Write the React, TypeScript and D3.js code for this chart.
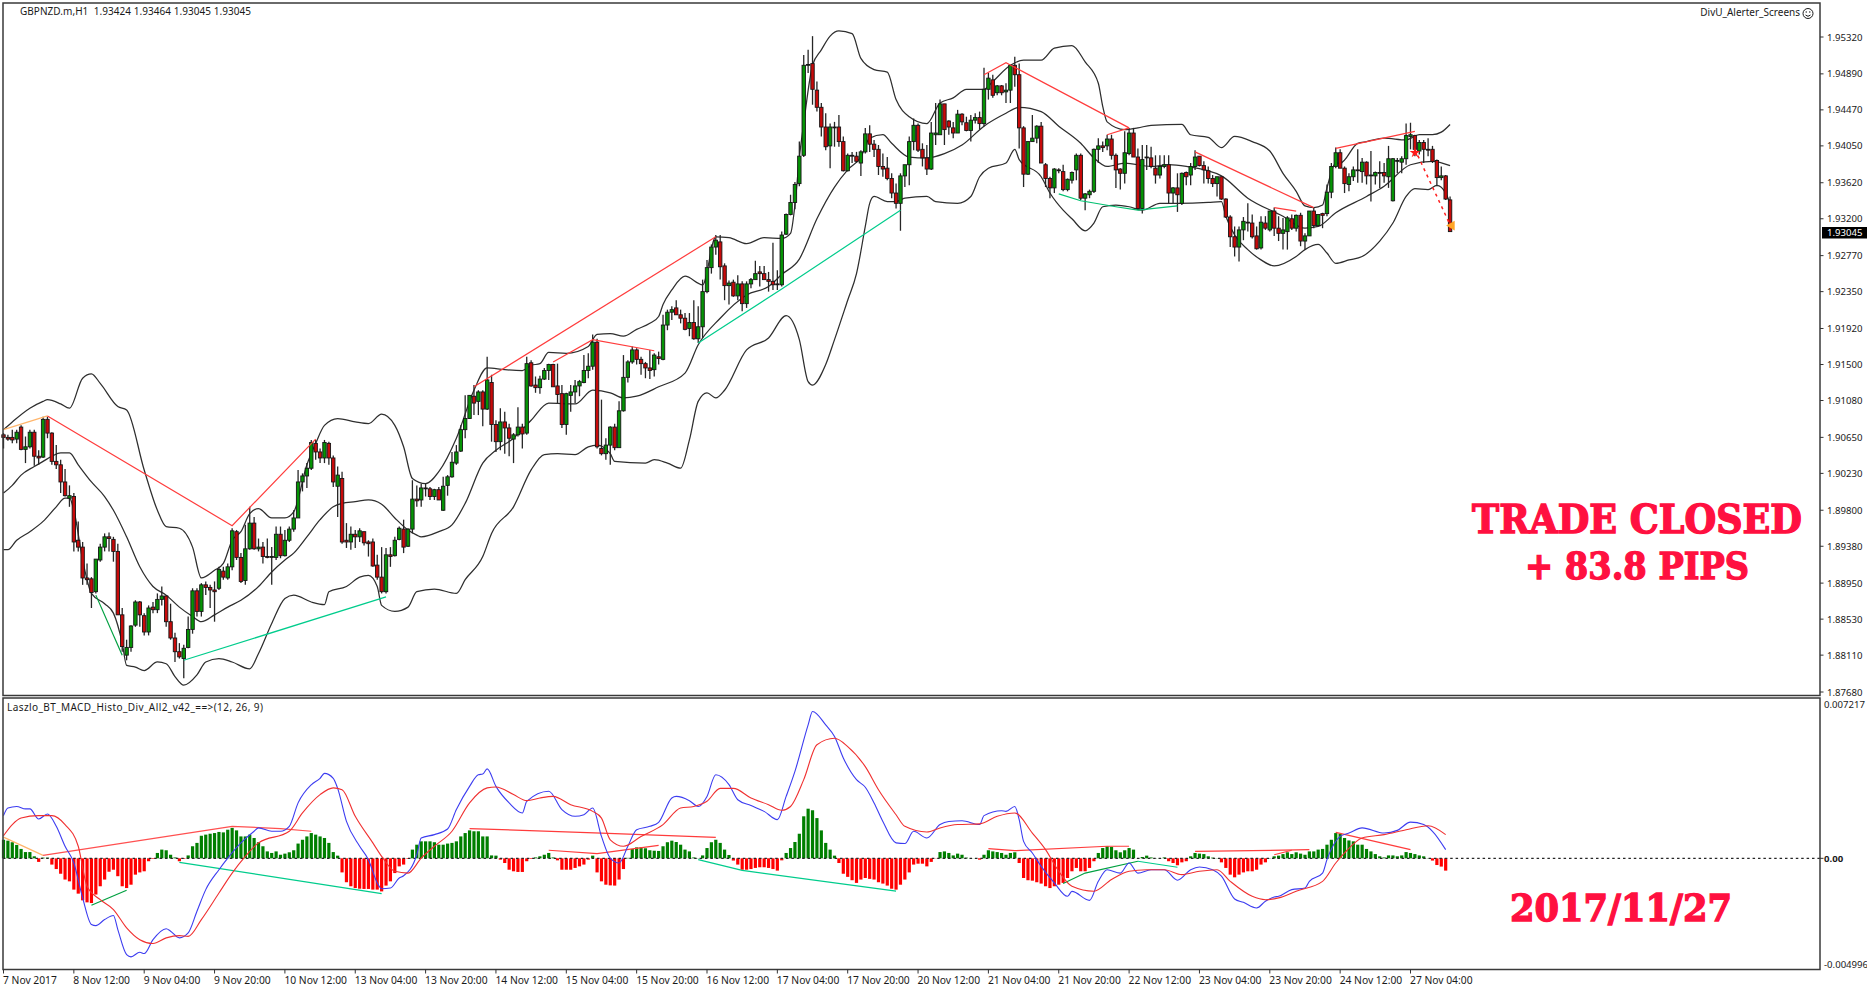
import React from 'react'
import * as d3 from 'd3'

// prices are kept in 1/10000 units, macd values in 1/100000 units
const candles = [
  [19068,19070,19052,19065],[19065,19068,19061,19063],[19065,19074,19058,19062],[19063,19074,19058,19071],[19077,19079,19050,19051],
  [19051,19066,19035,19054],[19054,19074,19052,19071],[19071,19074,19032,19043],[19043,19050,19033,19041],[19042,19089,19041,19086],
  [19086,19089,19064,19070],[19070,19071,19033,19037],[19037,19056,19028,19033],[19033,19039,19000,19013],[19013,19028,18996,18997],
  [18994,19009,18984,18997],[18996,19000,18932,18943],[18945,18967,18932,18937],[18937,18943,18893,18901],[18901,18918,18893,18899],
  [18900,18902,18866,18884],[18885,18923,18883,18923],[18922,18941,18920,18937],[18937,18953,18932,18949],[18949,18954,18932,18947],
  [18946,18949,18920,18932],[18932,18941,18858,18858],[18858,18866,18815,18821],[18811,18829,18805,18820],[18820,18846,18815,18845],
  [18846,18875,18844,18873],[18873,18874,18844,18858],[18857,18860,18834,18838],[18838,18869,18834,18866],[18867,18873,18860,18864],
  [18864,18883,18860,18876],[18876,18891,18869,18880],[18880,18881,18844,18850],[18850,18871,18829,18831],[18831,18837,18803,18815],
  [18815,18825,18807,18809],[18807,18823,18784,18819],[18820,18856,18819,18841],[18841,18889,18836,18886],[18886,18889,18856,18862],
  [18862,18895,18856,18893],[18893,18897,18881,18890],[18890,18893,18866,18887],[18887,18897,18850,18885],[18889,18914,18887,18911],
  [18909,18914,18899,18902],[18901,18918,18899,18914],[18914,18959,18910,18956],[18955,18957,18922,18925],[18925,18930,18895,18897],
  [18898,18963,18893,18935],[18935,18984,18934,18965],[18965,18972,18934,18935],[18935,18947,18932,18937],[18937,18943,18918,18926],
  [18926,18947,18924,18925],[18925,18937,18893,18926],[18925,18961,18922,18952],[18952,18961,18924,18927],[18927,18957,18926,18945],
  [18945,18961,18943,18958],[18958,18980,18955,18971],[18971,19027,18971,19013],[19013,19023,19002,19020],[19020,19035,19006,19029],
  [19029,19062,19027,19059],[19058,19062,19039,19048],[19048,19052,19035,19041],[19041,19062,19035,19059],[19058,19060,19033,19041],
  [19041,19044,19007,19013],[19008,19031,18972,19021],[19017,19025,18941,18943],[18945,18965,18936,18943],[18943,18961,18934,18952],
  [18952,18957,18936,18949],[18949,18959,18943,18956],[18955,18955,18939,18942],[18943,18945,18926,18941],[18943,18947,18914,18915],
  [18916,18928,18899,18902],[18902,18937,18883,18885],[18885,18936,18883,18928],[18928,18937,18914,18926],[18927,18949,18926,18945],
  [18946,18961,18945,18959],[18958,18969,18930,18937],[18938,18959,18937,18958],[18958,19015,18953,18993],[18993,19009,18984,18991],
  [18992,19011,18984,19006],[19006,19011,18996,19005],[19005,19007,18992,18996],[18996,19005,18992,19004],[19004,19007,18992,18992],
  [18980,19019,18979,19008],[19009,19021,18997,19019],[19019,19048,19018,19036],[19035,19056,19033,19048],[19049,19079,19048,19074],
  [19074,19114,19064,19087],[19087,19114,19087,19114],[19113,19126,19091,19105],[19107,19120,19091,19118],[19118,19120,19078,19098],
  [19098,19159,19097,19132],[19129,19138,19060,19080],[19080,19085,19048,19060],[19060,19099,19050,19083],[19083,19095,19046,19076],
  [19076,19081,19043,19064],[19063,19070,19035,19068],[19068,19100,19066,19077],[19077,19081,19052,19069],[19070,19159,19068,19151],
  [19152,19155,19124,19125],[19126,19136,19117,19123],[19123,19137,19116,19133],[19133,19146,19132,19143],[19143,19151,19132,19150],
  [19150,19151,19124,19124],[19125,19151,19105,19115],[19116,19126,19076,19080],[19080,19117,19068,19116],[19114,19126,19095,19118],
  [19118,19132,19105,19125],[19125,19132,19113,19130],[19129,19161,19128,19143],[19143,19163,19134,19148],[19148,19185,19144,19176],
  [19176,19180,19052,19054],[19052,19109,19044,19046],[19046,19064,19039,19056],[19056,19078,19033,19077],[19077,19081,19050,19053],
  [19053,19107,19053,19096],[19096,19161,19095,19135],[19135,19155,19129,19153],[19153,19171,19151,19167],[19167,19169,19150,19156],
  [19156,19159,19138,19151],[19151,19153,19134,19146],[19146,19167,19133,19143],[19144,19163,19136,19161],[19159,19165,19150,19157],
  [19156,19208,19155,19196],[19196,19214,19190,19211],[19211,19218,19202,19214],[19216,19225,19208,19208],[19208,19214,19198,19204],
  [19204,19210,19190,19191],[19192,19210,19183,19199],[19199,19225,19179,19180],[19180,19218,19175,19194],[19194,19249,19181,19235],
  [19235,19272,19233,19263],[19263,19290,19256,19287],[19287,19301,19278,19295],[19293,19301,19249,19264],[19265,19268,19225,19242],
  [19242,19248,19220,19245],[19246,19249,19229,19230],[19230,19254,19225,19244],[19244,19247,19212,19221],[19221,19247,19216,19244],
  [19244,19251,19239,19249],[19249,19271,19249,19256],[19258,19265,19241,19256],[19256,19265,19249,19249],[19249,19258,19235,19247],
  [19247,19292,19237,19243],[19244,19260,19237,19243],[19243,19305,19241,19301],[19302,19326,19301,19325],[19325,19348,19324,19339],
  [19339,19363,19331,19360],[19361,19410,19358,19393],[19394,19511,19392,19499],[19499,19517,19490,19500],[19501,19533,19453,19471],
  [19470,19480,19445,19450],[19450,19455,19416,19427],[19427,19443,19400,19404],[19405,19431,19379,19427],[19427,19433,19404,19426],
  [19427,19441,19404,19410],[19410,19416,19375,19376],[19376,19396,19375,19394],[19394,19398,19385,19393],[19393,19398,19385,19387],
  [19385,19400,19370,19398],[19398,19426,19396,19419],[19419,19429,19398,19407],[19407,19412,19392,19401],[19401,19406,19371,19381],
  [19381,19396,19369,19378],[19379,19392,19365,19367],[19367,19373,19344,19350],[19350,19361,19332,19338],[19338,19373,19306,19370],
  [19370,19383,19357,19383],[19383,19416,19359,19410],[19410,19437,19400,19429],[19429,19431,19398,19400],[19401,19408,19381,19391],
  [19391,19406,19371,19378],[19378,19433,19377,19420],[19418,19455,19406,19420],[19418,19459,19418,19454],[19454,19454,19406,19424],
  [19434,19435,19418,19427],[19426,19433,19414,19420],[19420,19447,19420,19442],[19442,19443,19429,19433],[19432,19439,19422,19423],
  [19423,19441,19410,19435],[19435,19443,19431,19438],[19438,19445,19424,19431],[19431,19496,19428,19471],[19471,19490,19459,19484],
  [19482,19488,19461,19464],[19467,19476,19464,19475],[19475,19476,19464,19467],[19468,19478,19455,19470],[19470,19499,19455,19499],
  [19499,19509,19474,19488],[19488,19501,19402,19426],[19426,19428,19357,19372],[19372,19410,19371,19410],[19410,19441,19410,19414],
  [19414,19429,19408,19428],[19428,19433,19385,19385],[19383,19385,19357,19367],[19367,19369,19344,19356],[19356,19379,19350,19378],
  [19377,19379,19373,19376],[19375,19383,19352,19354],[19354,19367,19352,19366],[19365,19375,19361,19374],[19377,19396,19365,19394],
  [19394,19396,19342,19344],[19344,19350,19330,19349],[19348,19354,19344,19352],[19352,19402,19350,19401],[19401,19414,19385,19405],
  [19405,19410,19398,19403],[19405,19418,19400,19413],[19413,19418,19389,19394],[19394,19396,19356,19377],[19378,19379,19354,19373],
  [19373,19422,19361,19397],[19396,19426,19394,19420],[19420,19426,19392,19392],[19392,19402,19332,19332],[19332,19406,19326,19389],
  [19392,19406,19377,19391],[19391,19404,19379,19381],[19379,19394,19361,19371],[19371,19394,19367,19381],[19381,19394,19379,19383],
  [19383,19394,19338,19350],[19350,19357,19338,19356],[19356,19373,19328,19348],[19338,19374,19336,19373],[19374,19375,19359,19369],
  [19371,19385,19359,19381],[19381,19400,19377,19392],[19393,19393,19381,19382],[19382,19387,19361,19377],[19376,19381,19361,19367],
  [19367,19371,19357,19361],[19361,19369,19346,19369],[19369,19369,19342,19343],[19343,19344,19321,19322],[19322,19324,19287,19299],
  [19299,19311,19276,19287],[19287,19311,19270,19307],[19307,19322,19295,19317],[19316,19338,19305,19315],[19315,19325,19297,19299],
  [19300,19311,19284,19285],[19286,19323,19284,19316],[19315,19323,19307,19309],[19307,19329,19305,19329],[19329,19333,19300,19309],
  [19309,19323,19294,19303],[19303,19321,19284,19307],[19305,19323,19284,19321],[19320,19325,19307,19309],[19309,19325,19305,19324],
  [19324,19327,19288,19294],[19294,19303,19284,19300],[19300,19329,19300,19329],[19329,19333,19309,19312],[19312,19325,19311,19325],
  [19326,19327,19309,19324],[19326,19360,19323,19351],[19351,19385,19344,19381],[19381,19403,19379,19397],[19397,19401,19379,19379],
  [19379,19381,19350,19361],[19360,19373,19352,19369],[19369,19381,19364,19377],[19377,19401,19362,19376],[19375,19391,19362,19386],
  [19386,19387,19360,19370],[19371,19399,19340,19370],[19370,19375,19360,19374],[19374,19387,19356,19373],[19374,19385,19362,19370],
  [19369,19405,19356,19390],[19341,19391,19340,19390],[19387,19391,19373,19388],[19386,19393,19373,19390],[19390,19431,19383,19417],
  [19416,19432,19401,19418],[19417,19418,19393,19401],[19399,19412,19395,19409],[19409,19412,19385,19401],[19401,19414,19393,19400],
  [19401,19405,19385,19387],[19388,19389,19358,19368],[19368,19381,19365,19370],[19370,19371,19342,19343],[19342,19346,19305,19305],
]

const bbUpper = [
  [0,19074],[2,19083],[6,19099],[9,19107],[10,19109],[13,19104],[15,19099],[18,19134],[20,19139],[22,19128],[26,19101],[28,19097],
  [32,19027],[35,18980],[37,18961],[40,18959],[43,18937],[45,18901],[48,18910],[50,18918],[52,18945],[54,18955],[56,18976],[58,18982],
  [61,18971],[64,18971],[66,18978],[69,19033],[71,19058],[73,19079],[76,19087],[80,19083],[83,19081],[86,19092],[89,19079],[91,19054],
  [93,19017],[96,19011],[99,19025],[103,19064],[107,19120],[110,19146],[114,19144],[118,19143],[120,19149],[122,19151],[124,19164],
  [128,19163],[133,19171],[135,19185],[138,19186],[141,19183],[144,19191],[147,19198],[149,19206],[150,19220],[152,19237],[155,19253],
  [159,19243],[162,19299],[165,19298],[169,19291],[173,19298],[177,19297],[179,19303],[180,19336],[181,19391],[182,19431],[184,19499],
  [186,19517],[188,19533],[190,19539],[193,19536],[195,19507],[198,19494],[201,19491],[203,19459],[206,19439],[210,19431],[213,19455],
  [216,19461],[219,19471],[223,19471],[225,19480],[229,19499],[232,19505],[236,19505],[239,19519],[243,19522],[246,19503],[249,19478],
  [250,19451],[251,19433],[255,19424],[258,19426],[261,19429],[268,19430],[270,19418],[274,19415],[277,19403],[280,19416],[284,19410],
  [288,19399],[291,19373],[294,19352],[296,19335],[298,19333],[300,19336],[301,19356],[303,19385],[304,19385],[308,19408],[310,19410],
  [314,19414],[319,19412],[322,19418],[325,19418],[327,19421],[329,19430],
]
const bbMiddle = [
  [0,19000],[2,19009],[4,19021],[7,19031],[9,19037],[11,19043],[13,19047],[15,19047],[17,19033],[20,19013],[23,18996],[25,18980],
  [28,18949],[31,18914],[34,18891],[37,18881],[40,18867],[43,18856],[45,18850],[48,18858],[51,18867],[54,18875],[58,18891],[61,18908],
  [64,18922],[66,18930],[69,18949],[72,18969],[75,18984],[77,18988],[80,18990],[83,18992],[86,18987],[89,18971],[92,18957],[94,18951],
  [95,18949],[99,18955],[102,18963],[105,18988],[109,19035],[112,19050],[116,19064],[120,19085],[124,19105],[130,19104],[134,19120],
  [138,19117],[141,19111],[144,19113],[149,19124],[155,19140],[158,19173],[163,19204],[169,19231],[174,19241],[177,19255],[181,19273],
  [185,19320],[189,19357],[192,19377],[195,19392],[197,19414],[200,19418],[202,19408],[206,19392],[210,19391],[214,19396],[218,19406],
  [223,19428],[228,19443],[231,19450],[236,19445],[240,19428],[245,19408],[248,19391],[251,19381],[255,19385],[261,19381],[265,19383],
  [269,19381],[277,19370],[283,19344],[291,19323],[296,19309],[299,19311],[303,19327],[310,19346],[314,19358],[320,19383],[325,19387],[329,19382],
]
const bbLower = [
  [0,18934],[1,18934],[3,18945],[6,18955],[9,18967],[12,18984],[14,18994],[15,18994],[16,18980],[18,18922],[20,18883],[23,18871],
  [25,18860],[27,18825],[28,18799],[30,18797],[32,18793],[35,18803],[37,18801],[39,18786],[41,18776],[44,18788],[46,18803],[49,18807],
  [52,18803],[56,18795],[58,18813],[61,18848],[64,18877],[66,18881],[70,18873],[73,18870],[74,18885],[78,18891],[81,18902],[83,18904],
  [85,18891],[86,18869],[89,18862],[92,18867],[94,18885],[98,18888],[103,18883],[105,18899],[109,18926],[111,18953],[116,18984],
  [120,19027],[123,19045],[126,19046],[130,19045],[133,19054],[135,19056],[138,19046],[139,19037],[146,19035],[148,19039],[151,19035],
  [154,19029],[156,19062],[158,19107],[160,19117],[162,19111],[164,19120],[169,19167],[174,19181],[178,19207],[181,19179],[183,19130],
  [184,19126],[187,19150],[189,19179],[192,19225],[194,19256],[196,19311],[197,19338],[198,19346],[201,19340],[203,19340],[205,19344],
  [210,19346],[212,19340],[217,19338],[220,19346],[222,19369],[224,19379],[228,19385],[230,19401],[231,19389],[236,19369],[238,19350],
  [241,19330],[243,19320],[246,19306],[248,19315],[250,19334],[253,19336],[256,19334],[259,19330],[263,19338],[267,19338],[274,19339],
  [277,19340],[278,19323],[280,19301],[283,19284],[286,19272],[289,19265],[294,19276],[296,19284],[299,19290],[301,19280],[303,19268],
  [306,19272],[309,19276],[313,19294],[316,19315],[319,19346],[321,19355],[324,19354],[326,19359],[328,19350],[329,19338],
]

const priceDivergences = [
  {color: '#ffb56b', points: [[0,19074],[10,19090]]},
  {color: '#ff3c3c', points: [[10,19090],[52,18962],[71,19063]]},
  {color: '#00a040', points: [[21,18881],[27,18811]]},
  {color: '#00cc8c', points: [[41,18805],[87,18879]]},
  {color: '#ff3c3c', points: [[107,19124],[162,19299]]},
  {color: '#ff3c3c', points: [[125,19153],[134,19179],[148,19166]]},
  {color: '#00cc8c', points: [[158,19175],[177,19238],[204,19330]]},
  {color: '#ff3c3c', points: [[223,19488],[228,19502],[256,19426]]},
  {color: '#ff3c3c', points: [[251,19418],[256,19426]]},
  {color: '#00c070', points: [[240,19349],[245,19341],[253,19334],[258,19330],[267,19335]]},
  {color: '#ff3c3c', points: [[271,19398],[298,19333]]},
  {color: '#ff3c3c', points: [[289,19333],[294,19329]]},
  {color: '#ff3c3c', points: [[303,19402],[321,19422]]},
]
const signalArrow = [[321,19401],[329,19313]]

const histogram = [
  83,79,72,60,42,28,28,9,-16,3,3,-28,-48,-69,-95,-103,-140,-158,-188,-197,-200,-162,-125,-95,-60,-51,-80,-125,-133,-118,
  -73,-63,-58,-13,-3,24,39,36,16,4,-13,-3,13,54,69,101,106,110,113,118,116,128,136,125,98,98,106,91,72,54,
  31,24,31,16,21,27,36,66,83,98,113,106,98,91,69,28,12,-63,-107,-125,-133,-136,-137,-137,-140,-140,-148,-122,-103,-66,
  -36,-28,-3,39,61,76,76,76,72,61,61,66,69,76,98,113,125,121,121,98,98,13,12,-6,-21,-51,-58,-61,-61,-13,
  -3,4,9,16,24,4,-9,-51,-51,-51,-43,-36,-28,-6,12,-63,-103,-118,-121,-122,-95,-48,2,42,49,49,45,36,34,33,
  54,72,79,73,61,39,31,4,1,13,46,72,83,69,39,15,-10,-28,-51,-51,-48,-43,-40,-40,-43,-48,-55,-9,24,46,
  73,110,188,222,215,180,125,69,39,12,-21,-69,-83,-98,-110,-95,-88,-92,-95,-107,-113,-122,-136,-140,-118,-95,-63,-28,-24,-24,
  -36,-16,-1,28,31,24,13,21,16,3,1,1,-6,16,36,31,28,24,16,24,27,-21,-88,-98,-100,-107,-113,-125,-133,-125,
  -118,-110,-88,-58,-43,-58,-58,-43,-13,24,46,54,51,36,27,36,46,39,1,6,12,4,1,1,4,-13,-21,-31,-18,-13,
  9,24,21,19,9,3,1,-18,-43,-73,-85,-73,-63,-58,-58,-51,-28,-18,1,9,12,19,27,19,27,21,16,31,31,39,
  42,61,83,113,110,91,80,76,61,61,42,31,19,9,4,13,13,9,13,28,24,19,13,9,1,-10,-30,-37,-55,
]
const macdLine = [
  [0,191],[1,225],[3,232],[5,221],[6,221],[8,176],[10,198],[12,143],[14,54],[16,-21],[18,-177],[20,-296],[21,-301],[23,-274],[25,-256],
  [26,-319],[28,-431],[29,-441],[31,-420],[32,-426],[34,-364],[37,-315],[38,-326],[40,-356],[42,-334],[44,-237],[46,-140],[49,-51],[51,1],
  [54,69],[57,121],[58,136],[61,121],[63,121],[65,143],[67,248],[70,329],[72,358],[73,380],[75,358],[76,313],[78,165],[81,54],[83,-6],
  [85,-110],[86,-136],[88,-133],[90,-88],[91,-78],[94,16],[95,91],[98,106],[101,131],[103,218],[106,322],[108,374],[109,377],[110,400],
  [112,322],[115,248],[118,203],[119,255],[124,300],[127,218],[130,188],[132,195],[134,225],[136,98],[138,1],[140,-21],[142,54],[144,128],
  [147,143],[149,161],[152,270],[153,277],[156,258],[158,232],[160,277],[162,374],[165,330],[167,262],[170,236],[173,210],[176,173],
  [178,277],[180,389],[183,597],[184,657],[187,597],[189,545],[191,449],[194,352],[196,318],[198,248],[200,165],[203,69],[205,66],[207,121],
  [210,91],[213,151],[215,165],[218,168],[222,151],[223,191],[227,213],[228,210],[230,232],[231,173],[232,76],[234,24],[236,-36],[239,-110],
  [242,-170],[243,-148],[247,-188],[249,-103],[251,-51],[254,-66],[256,-21],[258,-66],[261,-51],[264,-51],[267,-98],[270,-51],[272,-39],
  [275,-51],[277,-80],[280,-182],[282,-197],[285,-222],[287,-192],[289,-173],[290,-170],[293,-140],[296,-133],[297,-103],[300,-66],[301,-6],
  [304,98],[306,113],[309,136],[314,113],[317,125],[320,162],[323,151],[325,121],[328,39],
]
const signalLine = [
  [0,101],[2,151],[4,180],[8,191],[11,191],[14,151],[17,54],[19,-125],[22,-185],[25,-229],[28,-311],[31,-364],[34,-381],[37,-356],[40,-346],
  [42,-349],[45,-274],[49,-155],[52,-66],[55,9],[58,69],[65,121],[68,203],[72,285],[75,315],[77,307],[80,188],[84,69],[86,9],[89,-58],[92,-66],
  [95,1],[98,54],[102,121],[106,248],[110,315],[112,319],[116,285],[119,258],[122,270],[125,277],[129,240],[134,210],[136,180],[138,83],
  [141,54],[145,98],[150,151],[154,225],[157,232],[160,255],[163,313],[166,313],[170,270],[174,240],[177,215],[179,232],[182,352],[185,508],
  [189,537],[192,500],[196,410],[199,307],[203,195],[205,143],[210,118],[213,136],[217,151],[222,154],[226,188],[230,203],[234,113],[237,39],
  [240,-58],[243,-125],[248,-147],[252,-95],[256,-58],[260,-51],[264,-51],[268,-73],[272,-58],[276,-51],[279,-103],[284,-170],[287,-185],
  [290,-177],[294,-147],[300,-103],[303,-21],[305,24],[309,91],[314,106],[319,128],[324,146],[328,106],
]
const macdDivergences = [
  {color: '#ffb56b', points: [[0,95],[9,13]]},
  {color: '#ff5050', points: [[9,13],[52,143],[63,133],[70,121]]},
  {color: '#00a040', points: [[20,-210],[28,-143]]},
  {color: '#00cc8c', points: [[40,-18],[86,-158]]},
  {color: '#ff3c3c', points: [[106,133],[136,113],[162,94]]},
  {color: '#ff3c3c', points: [[124,36],[135,21],[149,58]]},
  {color: '#00cc8c', points: [[158,-6],[168,-54],[203,-147]]},
  {color: '#ff3c3c', points: [[224,43],[230,34],[251,54],[256,54]]},
  {color: '#00a040', points: [[241,-113],[246,-66],[258,-13]]},
  {color: '#00cc8c', points: [[258,-13],[267,-40]]},
  {color: '#ff3c3c', points: [[271,31],[284,34],[297,39]]},
  {color: '#ff3c3c', points: [[289,16],[293,36]]},
  {color: '#ff3c3c', points: [[303,116],[320,39]]},
]

const priceLabels = ['1.95320','1.94890','1.94470','1.94050','1.93620','1.93200','1.92770','1.92350','1.91920','1.91500','1.91080','1.90650','1.90230','1.89800','1.89380','1.88950','1.88530','1.88110','1.87680']
const timeLabels = ['7 Nov 2017','8 Nov 12:00','9 Nov 04:00','9 Nov 20:00','10 Nov 12:00','13 Nov 04:00','13 Nov 20:00','14 Nov 12:00','15 Nov 04:00','15 Nov 20:00','16 Nov 12:00','17 Nov 04:00','17 Nov 20:00','20 Nov 12:00','21 Nov 04:00','21 Nov 20:00','22 Nov 12:00','23 Nov 04:00','23 Nov 20:00','24 Nov 12:00','27 Nov 04:00']

const width = 1867
const height = 993
const left = 3
const right = 1820
const mainTop = 3
const mainBottom = 695.5
const subTop = 698
const subBottom = 969.5
const labelFont = '"Noto Sans", sans-serif'
const slabFont = '"DejaVu Serif", serif'
const bigRed = '#ff1040'

const x = d3.scaleLinear().domain([0, 16]).range([3.5, 73.85])
const yPrice = d3.scaleLinear().domain([19532, 18768]).range([37, 692])
const yMacd = d3.scaleLinear().domain([721.7, -499.6]).range([subTop - 1, subBottom + 0.5])

const priceLine = d3
  .line()
  .x((d) => x(d[0]))
  .y((d) => yPrice(d[1]))
const smoothPrice = d3
  .line()
  .x((d) => x(d[0]))
  .y((d) => yPrice(d[1]))
  .curve(d3.curveMonotoneX)
const macdPath = d3
  .line()
  .x((d) => x(d[0]))
  .y((d) => yMacd(d[1]))
const smoothMacd = d3
  .line()
  .x((d) => x(d[0]))
  .y((d) => yMacd(d[1]))
  .curve(d3.curveMonotoneX)

const BigText = ({tx, ty, len, size, children}) => (
  <text
    x={tx}
    y={ty}
    textLength={len}
    lengthAdjust="spacingAndGlyphs"
    fontFamily={slabFont}
    fontWeight="bold"
    fontSize={size}
    fill={bigRed}
    stroke={bigRed}
    strokeWidth={1.4}
  >
    {children}
  </text>
)

export default function App() {
  return (
    <svg
      width={width}
      height={height}
      style={{position: 'absolute', left: 0, top: 0, background: '#fff'}}
    >
      <defs>
        <clipPath id="main-clip">
          <rect x={left} y={mainTop} width={right - left} height={mainBottom - mainTop} />
        </clipPath>
      </defs>

      {/* bollinger bands */}
      <g clipPath="url(#main-clip)" fill="none" stroke="#2e2e2e" strokeWidth={1.25}>
        <path d={smoothPrice(bbUpper)} />
        <path d={smoothPrice(bbMiddle)} />
        <path d={smoothPrice(bbLower)} />
      </g>

      {/* candles */}
      <g>
        {candles.map(([o, h, l, c], i) => (
          <g key={i}>
            <line x1={x(i)} x2={x(i)} y1={yPrice(h)} y2={yPrice(l)} stroke="#262626" strokeWidth={1.3} />
            <rect
              x={x(i) - 1.7}
              y={yPrice(Math.max(o, c))}
              width={3.4}
              height={Math.max(Math.abs(yPrice(o) - yPrice(c)), 0.6)}
              fill={c >= o ? '#059405' : '#c80a0a'}
              stroke="#161616"
              strokeWidth={0.9}
            />
          </g>
        ))}
      </g>

      {/* divergence lines on price */}
      <g fill="none" strokeWidth={1.2}>
        {priceDivergences.map((d, i) => (
          <path key={i} d={priceLine(d.points)} stroke={d.color} />
        ))}
        <path d={priceLine(signalArrow)} stroke="#ff2020" strokeWidth={1.5} strokeDasharray="3 4" />
      </g>
      <path
        d={d3.symbol(d3.symbolStar, 34)()}
        transform={`translate(${x(321)},${yPrice(19397)})`}
        fill="#ff1a1a"
      />
      <path
        d={d3.symbol(d3.symbolTriangle, 42)()}
        transform={`translate(${x(329.4)},${yPrice(19312)}) rotate(-90)`}
        fill="#ffa526"
      />

      {/* macd pane */}
      <g>
        {histogram.map((v, i) => (
          <rect
            key={i}
            x={x(i) - 1.6}
            y={Math.min(yMacd(v), yMacd(0))}
            width={3.2}
            height={Math.abs(yMacd(v) - yMacd(0))}
            fill={v >= 0 ? '#007f00' : '#ff0000'}
          />
        ))}
      </g>
      <line
        x1={left}
        x2={right}
        y1={yMacd(0)}
        y2={yMacd(0)}
        stroke="#262626"
        strokeWidth={1.3}
        strokeDasharray="2.5 2.9"
      />
      <g fill="none" strokeWidth={1.2}>
        {macdDivergences.map((d, i) => (
          <path key={i} d={macdPath(d.points)} stroke={d.color} />
        ))}
      </g>
      <path d={smoothMacd(macdLine)} fill="none" stroke="#3c3cf0" strokeWidth={1.1} />
      <path d={smoothMacd(signalLine)} fill="none" stroke="#f03030" strokeWidth={1.1} />

      {/* frames */}
      <g fill="none" stroke="#3a3a3a" strokeWidth={1.5}>
        <rect x={left} y={mainTop} width={right - left} height={mainBottom - mainTop} />
        <rect x={left} y={subTop} width={right - left} height={subBottom - subTop} />
      </g>

      {/* price axis */}
      <g fontFamily={labelFont} fontSize={9.6} fill="#1a1a1a">
        {priceLabels.map((t) => {
          const py = yPrice(parseFloat(t) * 1e4)
          return (
            <g key={t}>
              <line x1={right} x2={right + 3.5} y1={py} y2={py} stroke="#333" />
              <text x={right + 7} y={py + 3.5}>
                {t}
              </text>
            </g>
          )
        })}
      </g>
      <rect x={1822} y={227} width={45} height={11.5} fill="#000" />
      <text x={1827} y={236.3} fontFamily={labelFont} fontSize={9.6} fill="#fff">
        1.93045
      </text>

      {/* macd axis */}
      <g fontFamily={labelFont} fontSize={9.6} fill="#1a1a1a">
        <line x1={right} x2={right + 3.5} y1={yMacd(0)} y2={yMacd(0)} stroke="#333" />
        <text x={right + 4} y={subTop + 10}>0.007217</text>
        <text x={right + 4} y={yMacd(0) + 3.5} fontWeight="bold">0.00</text>
        <text x={right + 4} y={subBottom - 2}>-0.004996</text>
      </g>

      {/* time axis */}
      <g fontFamily={labelFont} fontSize={10.3} fill="#1a1a1a">
        {timeLabels.map((t, i) => (
          <g key={t}>
            <line x1={x(i * 16)} x2={x(i * 16)} y1={subBottom} y2={subBottom + 4} stroke="#333" />
            <text x={x(i * 16) - 0.5} y={984}>
              {t}
            </text>
          </g>
        ))}
      </g>

      {/* captions */}
      <text x={20} y={15} fontFamily={labelFont} fontSize={10} fill="#1a1a1a" textLength={231} lengthAdjust="spacing" style={{whiteSpace: 'pre'}}>
        GBPNZD.m,H1  1.93424 1.93464 1.93045 1.93045
      </text>
      <text x={7} y={711} fontFamily={labelFont} fontSize={10} fill="#1a1a1a" textLength={256} lengthAdjust="spacing">
        {'Laszlo_BT_MACD_Histo_Div_All2_v42_==>(12, 26, 9)'}
      </text>
      <text x={1800} y={16} textAnchor="end" fontFamily={labelFont} fontSize={10} fill="#1a1a1a">
        DivU_Alerter_Screens
      </text>
      <g fill="none" stroke="#1a1a1a" strokeWidth={1}>
        <circle cx={1808} cy={13.5} r={5} />
        <path d="M1805.5 15 q2.5 2.6 5 0" />
      </g>
      <circle cx={1806.2} cy={12} r={0.7} fill="#1a1a1a" />
      <circle cx={1809.8} cy={12} r={0.7} fill="#1a1a1a" />

      <BigText tx={1472} ty={533} len={330} size={39}>TRADE CLOSED</BigText>
      <BigText tx={1525} ty={579} len={224} size={38}>+ 83.8 PIPS</BigText>
      <BigText tx={1510} ty={921} len={222} size={38}>2017/11/27</BigText>
    </svg>
  )
}
